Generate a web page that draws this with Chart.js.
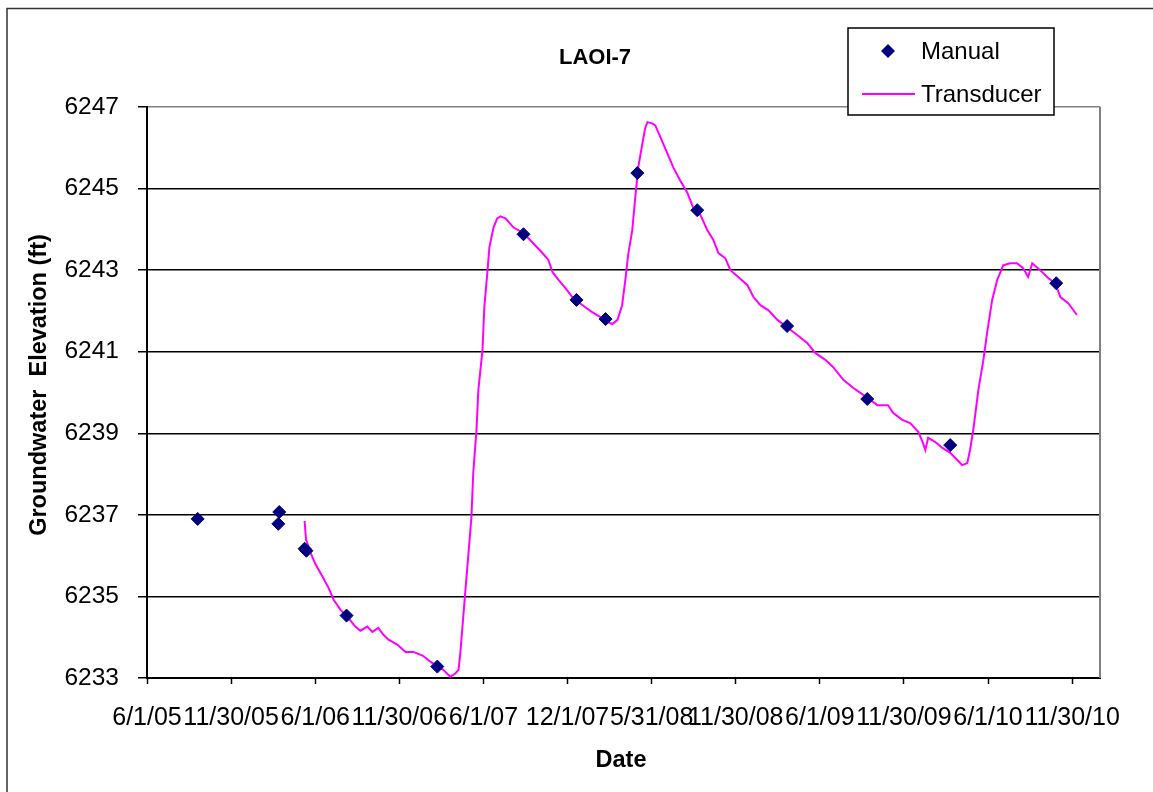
<!DOCTYPE html>
<html>
<head>
<meta charset="utf-8">
<script src="https://cdn.jsdelivr.net/npm/chart.js@4.4.0/dist/chart.umd.min.js"></script>
<style>
    html, body { margin: 0; padding: 0; background: #fff; }
    #wrap { position: relative; width: 1153px; height: 792px; }
</style>
</head>
<body>
<div id="wrap"><canvas id="chart-laoi7" width="1153" height="792"></canvas></div>
<script>
// ===================================================================
// LAOI-7 - groundwater elevation, manual readings vs transducer
// x values are days since 6/1/05
// ===================================================================

const dateTicks = ['6/1/05', '11/30/05', '6/1/06', '11/30/06', '6/1/07', '12/1/07',
                   '5/31/08', '11/30/08', '6/1/09', '11/30/09', '6/1/10', '11/30/10'];
const tickStepDays = 182.5;
const xMaxDays = 2068;

const elevTicks = [6233, 6235, 6237, 6239, 6241, 6243, 6245, 6247];

// Manual readings
const manualDays = [110, 287, 285, 342, 346, 433, 630, 817, 932, 995, 1064, 1194, 1389, 1563, 1743, 1973];
const manualElev = [6236.90, 6237.07, 6236.78, 6236.17, 6236.12, 6234.53, 6233.28, 6243.88,
                    6242.27, 6241.80, 6245.38, 6244.47, 6241.63, 6239.84, 6238.71, 6242.68];

// Transducer record
const transducerDays = [
    342, 345, 355, 366, 381, 394, 405, 420, 435, 452, 463, 478, 489, 502, 513, 524, 543, 561, 578, 598,
    615, 630, 643, 658, 669, 676, 680, 687, 691, 697, 704, 708, 715, 719, 728, 732, 739, 743, 752, 760,
    767, 778, 795, 817, 838, 858, 871, 880, 893, 908, 923, 936, 951, 966, 984, 999, 1010, 1021, 1031, 1038,
    1044, 1053, 1060, 1066, 1075, 1081, 1086, 1096, 1103, 1114, 1129, 1142, 1157, 1172, 1185, 1201, 1216, 1229, 1240, 1255,
    1266, 1283, 1303, 1316, 1331, 1348, 1368, 1389, 1411, 1433, 1450, 1472, 1489, 1511, 1533, 1548, 1563, 1585, 1608, 1619,
    1639, 1656, 1674, 1684, 1689, 1695, 1710, 1726, 1743, 1758, 1769, 1780, 1786, 1793, 1804, 1815, 1823, 1834, 1845, 1858,
    1873, 1888, 1901, 1912, 1921, 1938, 1956, 1971, 1982, 1999, 2018
];
const transducerElev = [
    6236.85, 6236.40, 6236.07, 6235.78, 6235.48, 6235.21, 6234.92, 6234.67, 6234.50, 6234.26,
    6234.16, 6234.26, 6234.13, 6234.23, 6234.06, 6233.94, 6233.82, 6233.64, 6233.64, 6233.55,
    6233.40, 6233.28, 6233.20, 6233.03, 6233.11, 6233.20, 6233.62, 6234.60, 6235.16, 6235.97,
    6236.95, 6238.03, 6239.08, 6240.06, 6241.04, 6242.09, 6243.00, 6243.56, 6244.05, 6244.27,
    6244.32, 6244.27, 6244.05, 6243.91, 6243.66, 6243.42, 6243.25, 6242.95, 6242.76, 6242.56,
    6242.34, 6242.22, 6242.09, 6241.97, 6241.85, 6241.73, 6241.68, 6241.78, 6242.14, 6242.76,
    6243.37, 6243.98, 6244.84, 6245.52, 6246.11, 6246.48, 6246.63, 6246.60, 6246.55, 6246.26,
    6245.87, 6245.52, 6245.20, 6244.91, 6244.54, 6244.35, 6243.98, 6243.74, 6243.42, 6243.29,
    6243.00, 6242.83, 6242.63, 6242.34, 6242.14, 6242.02, 6241.78, 6241.60, 6241.41, 6241.21,
    6240.97, 6240.80, 6240.62, 6240.31, 6240.11, 6239.99, 6239.87, 6239.69, 6239.69, 6239.50,
    6239.33, 6239.25, 6239.03, 6238.76, 6238.59, 6238.89, 6238.79, 6238.64, 6238.52, 6238.35,
    6238.22, 6238.27, 6238.59, 6239.08, 6240.06, 6240.80, 6241.46, 6242.27, 6242.76, 6243.12,
    6243.17, 6243.17, 6243.05, 6242.83, 6243.17, 6243.00, 6242.80, 6242.68, 6242.34, 6242.19,
    6241.90
];

const FONT = '"Liberation Sans", Arial, sans-serif';
const NAVY = '#000080';
const MAGENTA = '#FF00FF';

// Excel-style frame, titles and the floating legend
const excelFrame = {
    id: 'excelFrame',
    beforeDraw(chart) {
        const ctx = chart.ctx;
        ctx.save();
        ctx.fillStyle = '#fff';
        ctx.fillRect(0, 0, chart.width, chart.height);
        ctx.restore();
    },
    afterDraw(chart) {
        const ctx = chart.ctx;
        const area = chart.chartArea;
        ctx.save();

        // outer chart border (only left/top visible in the picture)
        ctx.strokeStyle = '#333';
        ctx.lineWidth = 1.5;
        ctx.strokeRect(7, 8.5, chart.width + 20, chart.height + 20);

        // plot area right border
        ctx.strokeStyle = '#808080';
        ctx.lineWidth = 2;
        ctx.beginPath();
        ctx.moveTo(area.right, area.top);
        ctx.lineTo(area.right, area.bottom);
        ctx.stroke();

        // titles
        ctx.fillStyle = '#000';
        ctx.textAlign = 'center';
        ctx.textBaseline = 'middle';
        ctx.font = 'bold 22px ' + FONT;
        ctx.fillText('LAOI-7', 595, 58);
        ctx.font = 'bold 23.5px ' + FONT;
        ctx.fillText('Date', 621, 761);

        ctx.save();
        ctx.translate(40, 385);
        ctx.rotate(-Math.PI / 2);
        ctx.fillText('Groundwater  Elevation (ft)', 0, 0);
        ctx.restore();

        // legend
        const lx = 848, ly = 28, lw = 206, lh = 87;
        ctx.fillStyle = '#fff';
        ctx.fillRect(lx, ly, lw, lh);
        ctx.strokeStyle = '#000';
        ctx.lineWidth = 1.5;
        ctx.strokeRect(lx, ly, lw, lh);

        ctx.fillStyle = NAVY;
        ctx.beginPath();
        ctx.moveTo(888, 44);
        ctx.lineTo(895, 51);
        ctx.lineTo(888, 58);
        ctx.lineTo(881, 51);
        ctx.closePath();
        ctx.fill();

        ctx.strokeStyle = MAGENTA;
        ctx.lineWidth = 2;
        ctx.beginPath();
        ctx.moveTo(862, 94);
        ctx.lineTo(915, 94);
        ctx.stroke();

        ctx.fillStyle = '#000';
        ctx.textAlign = 'left';
        ctx.font = '24px ' + FONT;
        ctx.fillText('Manual', 921, 52);
        ctx.fillText('Transducer', 921, 95);

        ctx.restore();
    }
};

function buildChart() {
    const canvas = document.getElementById('chart-laoi7');

    const manualPoints = manualDays.map((d, i) => ({ x: d, y: manualElev[i] }));
    const transducerPoints = transducerDays.map((d, i) => ({ x: d, y: transducerElev[i] }));

    new Chart(canvas.getContext('2d'), {
        type: 'scatter',
        data: {
            datasets: [
                {
                    label: 'Manual',
                    data: manualPoints,
                    pointStyle: 'rectRot',
                    pointRadius: 6.5,
                    backgroundColor: NAVY,
                    borderColor: NAVY,
                    borderWidth: 1,
                    showLine: false
                },
                {
                    label: 'Transducer',
                    data: transducerPoints,
                    showLine: true,
                    pointRadius: 0,
                    borderColor: MAGENTA,
                    borderWidth: 2,
                    tension: 0,
                    fill: false
                }
            ]
        },
        options: {
            responsive: false,
            animation: false,
            devicePixelRatio: 1,
            layout: { padding: { top: 107, right: 53, left: 0, bottom: 0 } },
            plugins: {
                legend: { display: false },
                title: { display: false },
                tooltip: { enabled: false }
            },
            scales: {
                x: {
                    type: 'linear',
                    min: 0,
                    max: xMaxDays,
                    afterBuildTicks: scale => {
                        scale.ticks = dateTicks.map((_, i) => ({ value: i * tickStepDays }));
                    },
                    afterFit: scale => { scale.height = 114; },
                    ticks: {
                        autoSkip: false,
                        maxRotation: 0,
                        minRotation: 0,
                        padding: 19,
                        color: '#000',
                        font: { family: FONT, size: 25 },
                        callback: (value, index) => dateTicks[index]
                    },
                    grid: {
                        drawOnChartArea: false,
                        drawTicks: true,
                        tickLength: 6,
                        tickWidth: 1.5,
                        tickColor: '#000'
                    },
                    border: { display: true, color: '#000', width: 2 }
                },
                y: {
                    min: elevTicks[0],
                    max: elevTicks[elevTicks.length - 1],
                    afterBuildTicks: scale => {
                        scale.ticks = elevTicks.map(v => ({ value: v }));
                    },
                    afterFit: scale => { scale.width = 147; },
                    ticks: {
                        padding: 19,
                        color: '#000',
                        font: { family: FONT, size: 24.5 },
                        callback: value => String(value)
                    },
                    grid: {
                        drawTicks: true,
                        tickLength: 9,
                        tickWidth: 1.5,
                        tickColor: '#000',
                        lineWidth: 1.5,
                        color: ctx => (ctx.tick && ctx.tick.value === 6247 ? '#808080' : '#000')
                    },
                    border: { display: true, color: '#000', width: 2 }
                }
            }
        },
        plugins: [excelFrame]
    });
}

document.addEventListener('DOMContentLoaded', buildChart);
</script>
</body>
</html>
